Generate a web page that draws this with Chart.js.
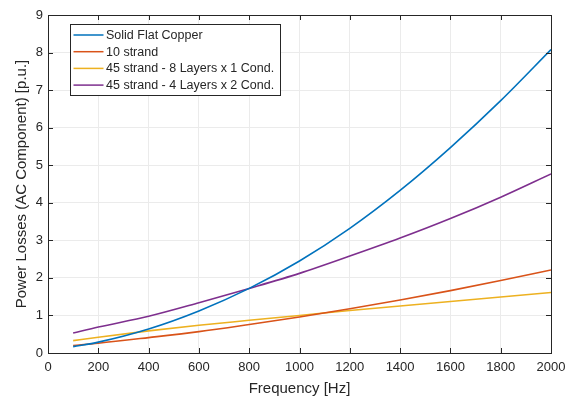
<!DOCTYPE html>
<html>
<head>
<meta charset="utf-8">
<script src="https://cdn.jsdelivr.net/npm/chart.js@4"></script>
<style>
  html, body { margin: 0; padding: 0; background: #fff; }
  #wrap { width: 577px; height: 398px; }
</style>
</head>
<body>
<div id="wrap"><canvas id="losses" width="577" height="398"></canvas></div>
<script>
// frequency points [Hz]
const freq = [100, 200, 400, 600, 800, 1000, 1200, 1400, 1600, 1800, 2000];

// AC component of power losses [p.u.]
const solidFlat = [0.17, 0.29, 0.64, 1.12, 1.72, 2.45, 3.32, 4.33, 5.47, 6.72, 8.08];
const strand10 = [0.20, 0.26, 0.41, 0.57, 0.76, 0.96, 1.18, 1.41, 1.66, 1.93, 2.21];
const strand45x8 = [0.33, 0.42, 0.59, 0.74, 0.87, 1.00, 1.13, 1.25, 1.37, 1.49, 1.61];
const strand45x4 = [0.53, 0.69, 0.98, 1.34, 1.72, 2.12, 2.58, 3.06, 3.58, 4.15, 4.77];

const labels = [
  "Solid Flat Copper",
  "10 strand",
  "45 strand - 8 Layers x 1 Cond.",
  "45 strand - 4 Layers x 2 Cond.",
];
const colors = ["#0072BD", "#D95319", "#EDB120", "#7E2F8E"];

const xTicks = [0, 200, 400, 600, 800, 1000, 1200, 1400, 1600, 1800, 2000];
const yTicks = [0, 1, 2, 3, 4, 5, 6, 7, 8, 9];

const FONT = "'Liberation Sans', Arial, Helvetica, sans-serif";
const INK = "#262626";

const series = [solidFlat, strand10, strand45x8, strand45x4];

// box around the axes, inward tick marks and the legend
const framePlugin = {
  id: "frame",
  afterDraw(chart) {
    const { ctx, chartArea: a, scales } = chart;
    ctx.save();
    ctx.strokeStyle = INK;
    ctx.lineWidth = 1;
    const tl = 5;
    ctx.beginPath();
    xTicks.forEach((v) => {
      const px = Math.round(scales.x.getPixelForValue(v)) + 0.5;
      ctx.moveTo(px, a.bottom);
      ctx.lineTo(px, a.bottom - tl);
      ctx.moveTo(px, a.top);
      ctx.lineTo(px, a.top + tl);
    });
    yTicks.forEach((v) => {
      const py = Math.round(scales.y.getPixelForValue(v)) + 0.5;
      ctx.moveTo(a.left, py);
      ctx.lineTo(a.left + tl, py);
      ctx.moveTo(a.right, py);
      ctx.lineTo(a.right - tl, py);
    });
    ctx.stroke();
    ctx.strokeRect(Math.round(a.left) + 0.5, Math.round(a.top) + 0.5,
      Math.round(a.right - a.left), Math.round(a.bottom - a.top));

    // legend
    const lx = 70.5, ly = 24.5, lw = 210, lh = 71;
    ctx.fillStyle = "#fff";
    ctx.fillRect(lx, ly, lw, lh);
    ctx.strokeRect(lx, ly, lw, lh);
    ctx.font = "12.5px " + FONT;
    ctx.textBaseline = "middle";
    chart.data.datasets.forEach((ds, i) => {
      const y = ly + 10.5 + i * 16.7;
      ctx.strokeStyle = ds.borderColor;
      ctx.lineWidth = 1.5;
      ctx.beginPath();
      ctx.moveTo(lx + 3, y);
      ctx.lineTo(lx + 33, y);
      ctx.stroke();
      ctx.fillStyle = INK;
      ctx.fillText(ds.label, lx + 35.5, y + 0.5);
    });
    ctx.restore();
  },
};

new Chart(document.getElementById("losses"), {
  type: "line",
  data: {
    datasets: series.map((vals, i) => ({
      label: labels[i],
      data: freq.map((f, j) => ({ x: f, y: vals[j] })),
      borderColor: colors[i],
      backgroundColor: colors[i],
      borderWidth: 1.6,
      pointRadius: 0,
      cubicInterpolationMode: "monotone",
      fill: false,
    })),
  },
  options: {
    responsive: false,
    animation: false,
    layout: { padding: { left: 0, right: 26, top: 15, bottom: 0 } },
    plugins: {
      legend: { display: false },
      tooltip: { enabled: false },
    },
    scales: {
      x: {
        type: "linear",
        min: 0,
        max: 2000,
        afterFit: (s) => { s.height = 45; },
        afterBuildTicks: (s) => { s.ticks = xTicks.map((v) => ({ value: v })); },
        grid: { color: "#ebebeb", drawTicks: false },
        border: { display: false },
        ticks: {
          color: INK,
          font: { family: FONT, size: 13 },
          padding: 7,
          maxRotation: 0,
          callback: (v) => String(v),
        },
        title: {
          display: true,
          text: "Frequency [Hz]",
          color: INK,
          font: { family: FONT, size: 15 },
          padding: { top: 0, bottom: 0 },
        },
      },
      y: {
        min: 0,
        max: 9,
        afterFit: (s) => { s.width = 48; },
        afterBuildTicks: (s) => { s.ticks = yTicks.map((v) => ({ value: v })); },
        grid: { color: "#ebebeb", drawTicks: false },
        border: { display: false },
        ticks: { color: INK, font: { family: FONT, size: 13 }, padding: 5 },
        title: {
          display: true,
          text: "Power Losses (AC Component) [p.u.]",
          color: INK,
          font: { family: FONT, size: 15 },
          padding: { top: 13, bottom: 0 },
        },
      },
    },
  },
  plugins: [framePlugin],
});
</script>
</body>
</html>
